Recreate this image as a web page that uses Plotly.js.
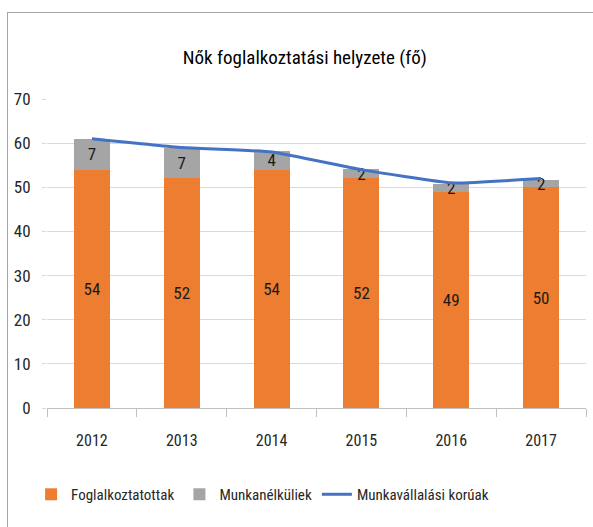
<!DOCTYPE html>
<html><head><meta charset="utf-8">
<script src="https://cdn.plot.ly/plotly-3.0.1.min.js"></script>
<style>
html,body{margin:0;padding:0;background:#fff;}
#wrap{position:relative;width:593px;height:527px;overflow:hidden;}
#frame{position:absolute;left:7px;top:12px;width:700px;height:700px;border-left:1px solid #a6a6a6;border-top:1px solid #a6a6a6;pointer-events:none;z-index:5;}
#chart{position:absolute;left:0;top:0;width:593px;height:527px;}
</style></head>
<body><div id="wrap"><div id="chart"></div><div id="frame"></div></div>
<script>
const years = ['2012','2013','2014','2015','2016','2017'];
const foglalkoztatottak = [54, 52, 54, 52, 49, 50];
const munkanelkuliek = [7, 6.8, 4.3, 2.2, 1.7, 1.6];
const munkavallalasiKoruak = [61, 59, 58, 54, 51, 52];

const FONT = 'Roboto Condensed, Carlito, sans-serif';

const traces = [
  {type:'bar', name:'Foglalkoztatottak', x:years, y:foglalkoztatottak,
   marker:{color:'#ED7D31'}, width:0.4,
   texttemplate:'%{y:.0f}', textposition:'inside', insidetextanchor:'middle', textangle:0,
   insidetextfont:{color:'#1a1a1a', size:17, family:FONT}, hoverinfo:'skip'},
  {type:'bar', name:'Munkanélküliek', x:years, y:munkanelkuliek,
   marker:{color:'#A5A5A5'}, width:0.4,
   texttemplate:'%{y:.0f}', textposition:'inside', insidetextanchor:'middle', textangle:0,
   insidetextfont:{color:'#1a1a1a', size:17, family:FONT}, hoverinfo:'skip'},
  {type:'scatter', mode:'lines', name:'Munkavállalási korúak', x:years, y:munkavallalasiKoruak,
   line:{color:'#4472C4', width:3, shape:'spline', smoothing:0.4}, hoverinfo:'skip'}
];

const layout = {
  width:593, height:527,
  margin:{l:47, r:7, t:99, b:119},
  paper_bgcolor:'#fff', plot_bgcolor:'#fff',
  font:{family:FONT, color:'#262626', size:16},
  title:{text:'Nők foglalkoztatási helyzete (fő)', font:{family:FONT, size:19, color:'#000', weight:400},
         x:0.514, xanchor:'center', y:0.892, yanchor:'middle', xref:'container'},
  barmode:'stack',
  uniformtext:{mode:'show', minsize:17},
  xaxis:{type:'category', showgrid:false, showline:true, linecolor:'#bfbfbf', linewidth:1,
         ticks:'outside', tickson:'boundaries', ticklen:8, tickcolor:'#bfbfbf',
         ticklabelstandoff:18,
         tickfont:{size:16, family:FONT, color:'#262626'}, zeroline:false},
  yaxis:{range:[0,70], dtick:10, showgrid:true, gridcolor:'#d9d9d9', gridwidth:1,
         showline:false, zeroline:false, ticks:'outside', ticklen:4, tickcolor:'#d9d9d9',
         ticklabelstandoff:8,
         tickfont:{size:17, family:FONT, color:'#262626'}},
  legend:{orientation:'h', x:0.40, xanchor:'center', y:-0.28, yanchor:'middle',
          itemwidth:30,
          font:{size:15, family:FONT, color:'#262626'}, traceorder:'normal'},
  showlegend:true
};

Plotly.newPlot('chart', traces, layout, {displayModeBar:false, staticPlot:true});
</script></body></html>
